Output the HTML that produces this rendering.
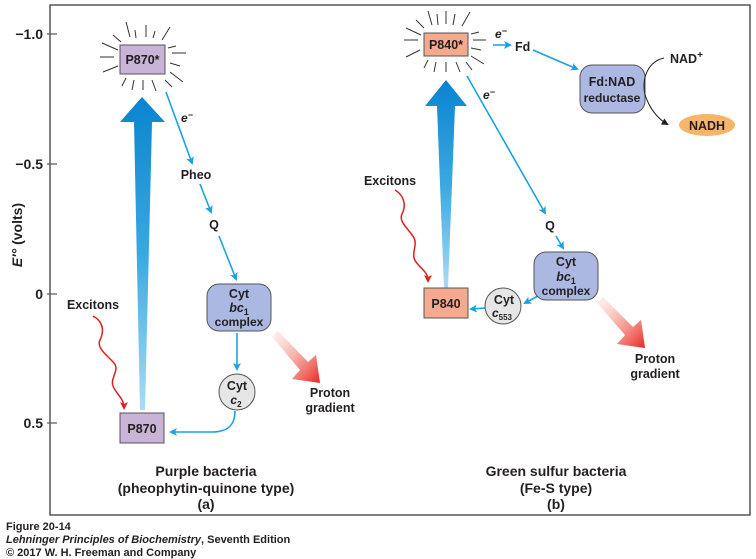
<!DOCTYPE html>
<html><head><meta charset="utf-8"><style>
html,body{margin:0;padding:0;background:#fff}
svg{display:block}
text{font-family:"Liberation Sans","DejaVu Sans",sans-serif;font-weight:bold;fill:#231f20}
</style></head><body>
<svg width="756" height="559" viewBox="0 0 756 559" xmlns="http://www.w3.org/2000/svg">
<defs>
<linearGradient id="bg" x1="0" y1="1" x2="0" y2="0">
<stop offset="0" stop-color="#a9dcf5"/><stop offset="0.5" stop-color="#3aa8e0"/><stop offset="1" stop-color="#0a84d0"/></linearGradient>
<linearGradient id="rg" x1="0" y1="0" x2="1" y2="1">
<stop offset="0" stop-color="#fbd6c8" stop-opacity="0.3"/><stop offset="1" stop-color="#e8251e"/></linearGradient>
<marker id="ab" markerWidth="8" markerHeight="8" refX="6" refY="4" orient="auto" markerUnits="userSpaceOnUse"><path d="M0,0 L8,4 L0,8 L2,4z" fill="#1ba1e2"/></marker>
<marker id="ar" markerWidth="8" markerHeight="8" refX="6" refY="4" orient="auto" markerUnits="userSpaceOnUse"><path d="M0,0 L8,4 L0,8 L2,4z" fill="#e02020"/></marker>
<marker id="ak" markerWidth="7" markerHeight="7" refX="5" refY="3.5" orient="auto" markerUnits="userSpaceOnUse"><path d="M0,0 L7,3.5 L0,7z" fill="#231f20"/></marker>
</defs>
<path d="M50,5 H750 V515 H50 Z" fill="none" stroke="#555" stroke-width="1.5"/>
<g stroke="#555" stroke-width="1.2">
<line x1="47" y1="34" x2="57" y2="34"/><line x1="47" y1="164" x2="57" y2="164"/><line x1="47" y1="294" x2="57" y2="294"/><line x1="47" y1="423" x2="57" y2="423"/>
</g>
<g font-size="14" text-anchor="end">
<text x="43" y="39">−1.0</text><text x="43" y="169">−0.5</text><text x="43" y="299">0</text><text x="43" y="428">0.5</text>
</g>
<text transform="translate(22,235) rotate(-90)" font-size="14" text-anchor="middle"><tspan font-style="italic">E′°</tspan> (volts)</text>

<path d="M134,122 L120,122 L142,97 L165,122 L152,122 L145,410 L140,410 Z" fill="url(#bg)"/>
<g stroke="#333" stroke-width="1">
<line x1="126" y1="22" x2="130" y2="37"/><line x1="135" y1="30" x2="136" y2="38"/><line x1="146" y1="25" x2="146" y2="37"/><line x1="155" y1="31" x2="153" y2="38"/><line x1="170" y1="27" x2="162" y2="40"/>
<line x1="113" y1="35" x2="121" y2="42"/><line x1="102" y1="43" x2="118" y2="50"/><line x1="100" y1="57" x2="114" y2="57"/><line x1="103" y1="72" x2="118" y2="66"/>
<line x1="168" y1="48" x2="176" y2="46"/><line x1="172" y1="53" x2="186" y2="53"/><line x1="170" y1="63" x2="180" y2="66"/><line x1="170" y1="72" x2="183" y2="82"/><line x1="165" y1="80" x2="172" y2="87"/>
<line x1="126" y1="78" x2="122" y2="86"/><line x1="134" y1="80" x2="132" y2="90"/><line x1="143" y1="80" x2="143" y2="90"/><line x1="152" y1="80" x2="156" y2="91"/>
</g>
<rect x="120" y="45" width="45" height="29" fill="#c9b3d6" stroke="#555" stroke-width="1"/>
<text x="142.5" y="64" font-size="12.5" text-anchor="middle">P870*</text>

<g stroke="#1ba1e2" stroke-width="1.6" fill="none">
<line x1="166" y1="92" x2="192" y2="163" marker-end="url(#ab)"/>
<line x1="200" y1="184" x2="211" y2="212" marker-end="url(#ab)"/>
<line x1="219" y1="236" x2="236" y2="279" marker-end="url(#ab)"/>
<line x1="237" y1="333" x2="237" y2="369" marker-end="url(#ab)"/>
<path d="M235,411 C235,425 228,432 212,432 L171,432" marker-end="url(#ab)"/>
</g>
<text x="181" y="122" font-size="12" font-style="italic">e<tspan dy="-4" font-size="9">−</tspan></text>
<text x="196" y="179" font-size="12.5" text-anchor="middle">Pheo</text>
<text x="214" y="229" font-size="12.5" text-anchor="middle">Q</text>
<rect x="207" y="284" width="64" height="47" rx="12" fill="#aab8e2" stroke="#555" stroke-width="1"/>
<text x="239" y="298" font-size="12.5" text-anchor="middle">Cyt</text>
<text x="239" y="312" font-size="12.5" text-anchor="middle" font-style="italic">bc<tspan font-size="9" dy="3" font-style="normal">1</tspan></text>
<text x="239" y="326" font-size="12" text-anchor="middle">complex</text>
<circle cx="237" cy="392" r="18" fill="#e6e6e6" stroke="#555" stroke-width="1"/>
<text x="237" y="390" font-size="12.5" text-anchor="middle">Cyt</text>
<text x="236" y="404" font-size="12" text-anchor="middle" font-style="italic">c<tspan font-size="8" dy="3" font-style="normal">2</tspan></text>
<rect x="120" y="413" width="44" height="30" fill="#c9b3d6" stroke="#555" stroke-width="1"/>
<text x="142" y="433" font-size="12.5" text-anchor="middle">P870</text>
<text x="93" y="309" font-size="12.5" text-anchor="middle">Excitons</text>
<path d="M93,316 C104,322 104,332 100,340 C96,348 108,356 114,363 C120,370 110,378 113,386 C116,394 124,398 124,408" fill="none" stroke="#e02020" stroke-width="1.5" marker-end="url(#ar)"/>
<path d="M272,337 L278,331 L308,362 L316,355 L320,383 L292,379 L300,370 Z" fill="url(#rg)"/>
<text x="330" y="397" font-size="12.5" text-anchor="middle">Proton</text>
<text x="330" y="412" font-size="12.5" text-anchor="middle">gradient</text>
<text x="206" y="476" font-size="14" text-anchor="middle">Purple bacteria</text>
<text x="206" y="493" font-size="14" text-anchor="middle">(pheophytin-quinone type)</text>
<text x="206" y="509" font-size="14" text-anchor="middle">(a)</text>

<path d="M437,106 L425,106 L446,80 L467,106 L455,106 L448,288 L444,288 Z" fill="url(#bg)"/>
<g stroke="#333" stroke-width="1">
<line x1="428" y1="11" x2="432" y2="25"/><line x1="437" y1="14" x2="438" y2="25"/><line x1="446" y1="11" x2="446" y2="24"/><line x1="455" y1="14" x2="453" y2="25"/><line x1="470" y1="12" x2="462" y2="26"/>
<line x1="416" y1="20" x2="424" y2="28"/><line x1="406" y1="28" x2="421" y2="35"/><line x1="404" y1="40" x2="418" y2="40"/><line x1="406" y1="57" x2="420" y2="50"/>
<line x1="471" y1="34" x2="479" y2="32"/><line x1="473" y1="40" x2="486" y2="40"/><line x1="471" y1="48" x2="481" y2="50"/><line x1="471" y1="56" x2="484" y2="64"/><line x1="466" y1="62" x2="472" y2="70"/>
<line x1="428" y1="60" x2="424" y2="68"/><line x1="436" y1="62" x2="434" y2="72"/><line x1="446" y1="62" x2="446" y2="72"/><line x1="456" y1="62" x2="460" y2="72"/>
</g>
<rect x="424" y="33" width="44" height="23" fill="#f5a98e" stroke="#555" stroke-width="1"/>
<text x="446" y="49" font-size="12.5" text-anchor="middle">P840*</text>
<g stroke="#1ba1e2" stroke-width="1.6" fill="none">
<line x1="493" y1="45" x2="510" y2="45" marker-end="url(#ab)"/>
<line x1="533" y1="50" x2="577" y2="69" marker-end="url(#ab)"/>
<line x1="467" y1="76" x2="545" y2="213" marker-end="url(#ab)"/>
<line x1="556" y1="236" x2="563" y2="248" marker-end="url(#ab)"/>
<line x1="538" y1="296" x2="525" y2="303" marker-end="url(#ab)"/>
<line x1="485" y1="308" x2="471" y2="309" marker-end="url(#ab)"/>
</g>
<text x="495" y="38" font-size="12" font-style="italic">e<tspan dy="-4" font-size="9">−</tspan></text>
<text x="483" y="99" font-size="12" font-style="italic">e<tspan dy="-4" font-size="9">−</tspan></text>
<text x="515" y="51" font-size="12.5">Fd</text>
<rect x="580" y="65" width="65" height="48" rx="12" fill="#aab8e2" stroke="#555" stroke-width="1"/>
<text x="612" y="86" font-size="12.5" text-anchor="middle">Fd:NAD</text>
<text x="612" y="102" font-size="12" text-anchor="middle">reductase</text>
<path d="M664,58 C645,62 640,85 647,100 C652,112 660,120 667,124" fill="none" stroke="#231f20" stroke-width="1" marker-end="url(#ak)"/>
<text x="670" y="63" font-size="12.5">NAD<tspan dy="-5" font-size="10">+</tspan></text>
<ellipse cx="707" cy="125" rx="28" ry="11" fill="#f7b46b"/>
<text x="707" y="130" font-size="12.5" text-anchor="middle">NADH</text>
<text x="550" y="230" font-size="12.5" text-anchor="middle">Q</text>
<rect x="534" y="252" width="64" height="48" rx="12" fill="#aab8e2" stroke="#555" stroke-width="1"/>
<text x="566" y="266" font-size="12.5" text-anchor="middle">Cyt</text>
<text x="566" y="281" font-size="12.5" text-anchor="middle" font-style="italic">bc<tspan font-size="9" dy="3" font-style="normal">1</tspan></text>
<text x="566" y="295" font-size="12" text-anchor="middle">complex</text>
<circle cx="503" cy="306" r="18" fill="#e6e6e6" stroke="#555" stroke-width="1"/>
<text x="504" y="304" font-size="12.5" text-anchor="middle">Cyt</text>
<text x="502" y="317" font-size="12" text-anchor="middle" font-style="italic">c<tspan font-size="8" dy="3" font-style="normal">553</tspan></text>
<rect x="424" y="288" width="44" height="30" fill="#f5a98e" stroke="#555" stroke-width="1"/>
<text x="446" y="308" font-size="12.5" text-anchor="middle">P840</text>
<text x="390" y="185" font-size="12.5" text-anchor="middle">Excitons</text>
<path d="M395,190 C405,196 406,206 402,214 C398,222 410,230 414,238 C418,246 410,254 416,262 C422,270 428,272 428,281" fill="none" stroke="#e02020" stroke-width="1.5" marker-end="url(#ar)"/>
<path d="M597,303 L603,297 L633,327 L641,320 L645,348 L617,344 L625,335 Z" fill="url(#rg)"/>
<text x="655" y="363" font-size="12.5" text-anchor="middle">Proton</text>
<text x="655" y="378" font-size="12.5" text-anchor="middle">gradient</text>
<text x="556" y="476" font-size="14" text-anchor="middle">Green sulfur bacteria</text>
<text x="556" y="493" font-size="14" text-anchor="middle">(Fe-S type)</text>
<text x="556" y="509" font-size="14" text-anchor="middle">(b)</text>

<text x="6" y="530" font-size="11">Figure 20-14</text>
<text x="6" y="543" font-size="11" font-weight="normal"><tspan font-style="italic">Lehninger Principles of Biochemistry</tspan>, Seventh Edition</text>
<text x="6" y="556" font-size="11" font-weight="normal">© 2017 W. H. Freeman and Company</text>
</svg>
</body></html>
